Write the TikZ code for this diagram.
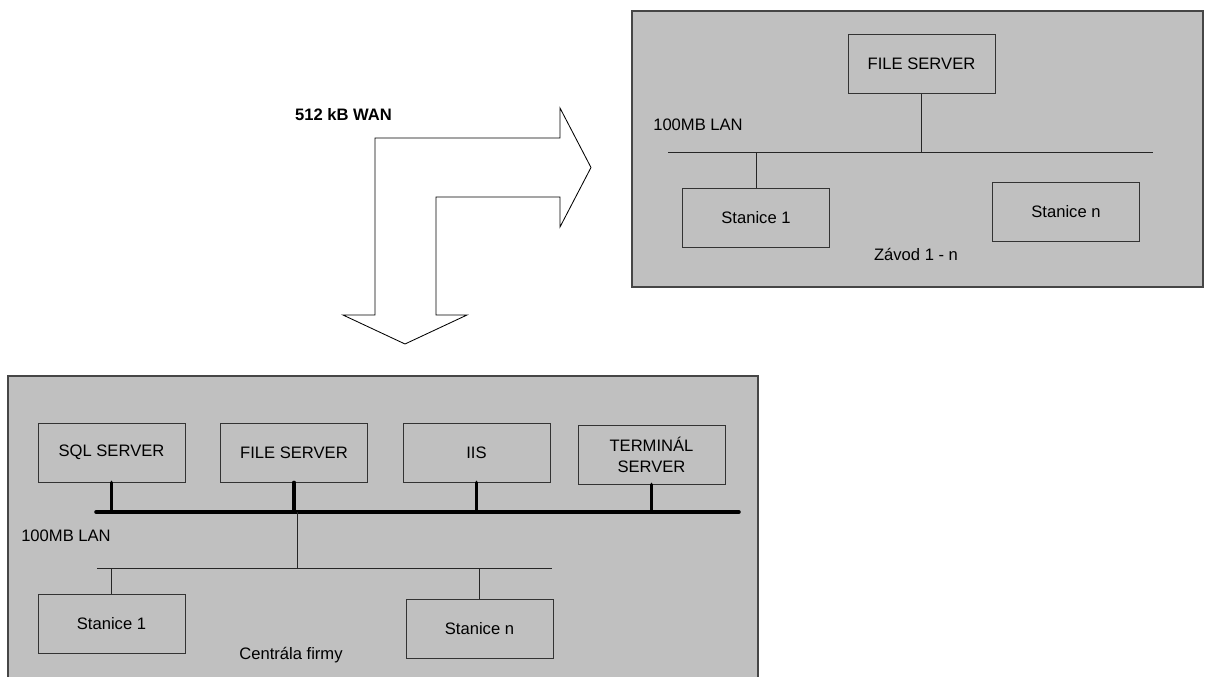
\documentclass[tikz,border=0pt]{standalone}
\usepackage{fontspec}
\setmainfont{Liberation Sans}
\usetikzlibrary{positioning,calc}
\definecolor{siteGray}{RGB}{192,192,192}
\definecolor{siteEdge}{RGB}{70,70,70}

\begin{document}
\begin{tikzpicture}[
  x=0.025cm, y=-0.025cm,
  font=\fontsize{11.8}{15}\selectfont,
  site/.style={fill=siteGray, draw=siteEdge, line width=1pt},
  pc/.style={draw=black!80, line width=0.6pt, minimum width=3.675cm,
    minimum height=1.475cm, inner sep=0pt, align=center},
  bus/.style={line width=2.5pt, line cap=round},
  lan/.style={draw=black!85, line width=0.6pt}
]
\useasboundingbox (0,0) rectangle (1205,677);
% sites
\draw[site] (632,11) rectangle (1203,287);
\draw[site] (8,376) rectangle (758,690);

% WAN arrow
\draw[line width=0.6pt, line join=miter]
  (375,138) -- (560,138) -- (560,108) -- (591,167.5) -- (560,227) -- (560,197)
  -- (436,197) -- (436,315) -- (467,315) -- (405,344) -- (343,315) -- (375,315) -- cycle;
\node[font=\fontsize{11.8}{15}\selectfont\bfseries] (wan) at (343.5,115) {512 kB WAN};

% Zavod 1 - n
\node[pc] (zfs) at (921.5,64) {FILE SERVER};
\node[pc] (zst1) at (756,217.5) {Stanice 1};
\node[pc] (zstn) at (1066,211.5) {Stanice n};
\coordinate (zlanA) at (668,152);
\coordinate (zlanB) at (1153,152);
\draw[lan] (zlanA) -- (zlanB);
\draw[lan] (zfs) -- (zfs |- zlanA);
\draw[lan] (zst1) -- (zst1 |- zlanA);
\node (zlab) at (698,125) {100MB LAN};
\node (zname) at (916,254) {Závod 1 - n};

% Centrala firmy
\foreach \n/\x/\y/\lab in {
  sql/111.5/452.5/SQL SERVER,
  fs/294/452.5/FILE SERVER,
  iis/476.5/452.5/IIS,
  term/651.5/454.5/{TERMINÁL\\SERVER}}
  \node[pc] (\n) at (\x,\y) {\lab};
\coordinate (busA) at (96,512);
\coordinate (busB) at (739,512);
\draw[bus] (busA) -- (busB);
\foreach \n in {sql,fs,iis,term}
  \draw[bus] (\n.south) -- (\n.south |- busA);
\coordinate (lanA) at (97,568);
\coordinate (lanB) at (552,568);
\draw[lan] (lanA) -- (lanB);
\draw[lan] ($(fs.south |- busA)+(3,0)$) -- ($(fs.south |- lanA)+(3,0)$);
\node[pc] (st1) at (111.5,623.5) {Stanice 1};
\node[pc] (stn) at (479.5,629) {Stanice n};
\draw[lan] (st1) -- (st1 |- lanA);
\draw[lan] (stn) -- (stn |- lanA);
\node (clab) at (66,536) {100MB LAN};
\node (cname) at (291,655) {Centrála firmy};
\end{tikzpicture}
\end{document}
